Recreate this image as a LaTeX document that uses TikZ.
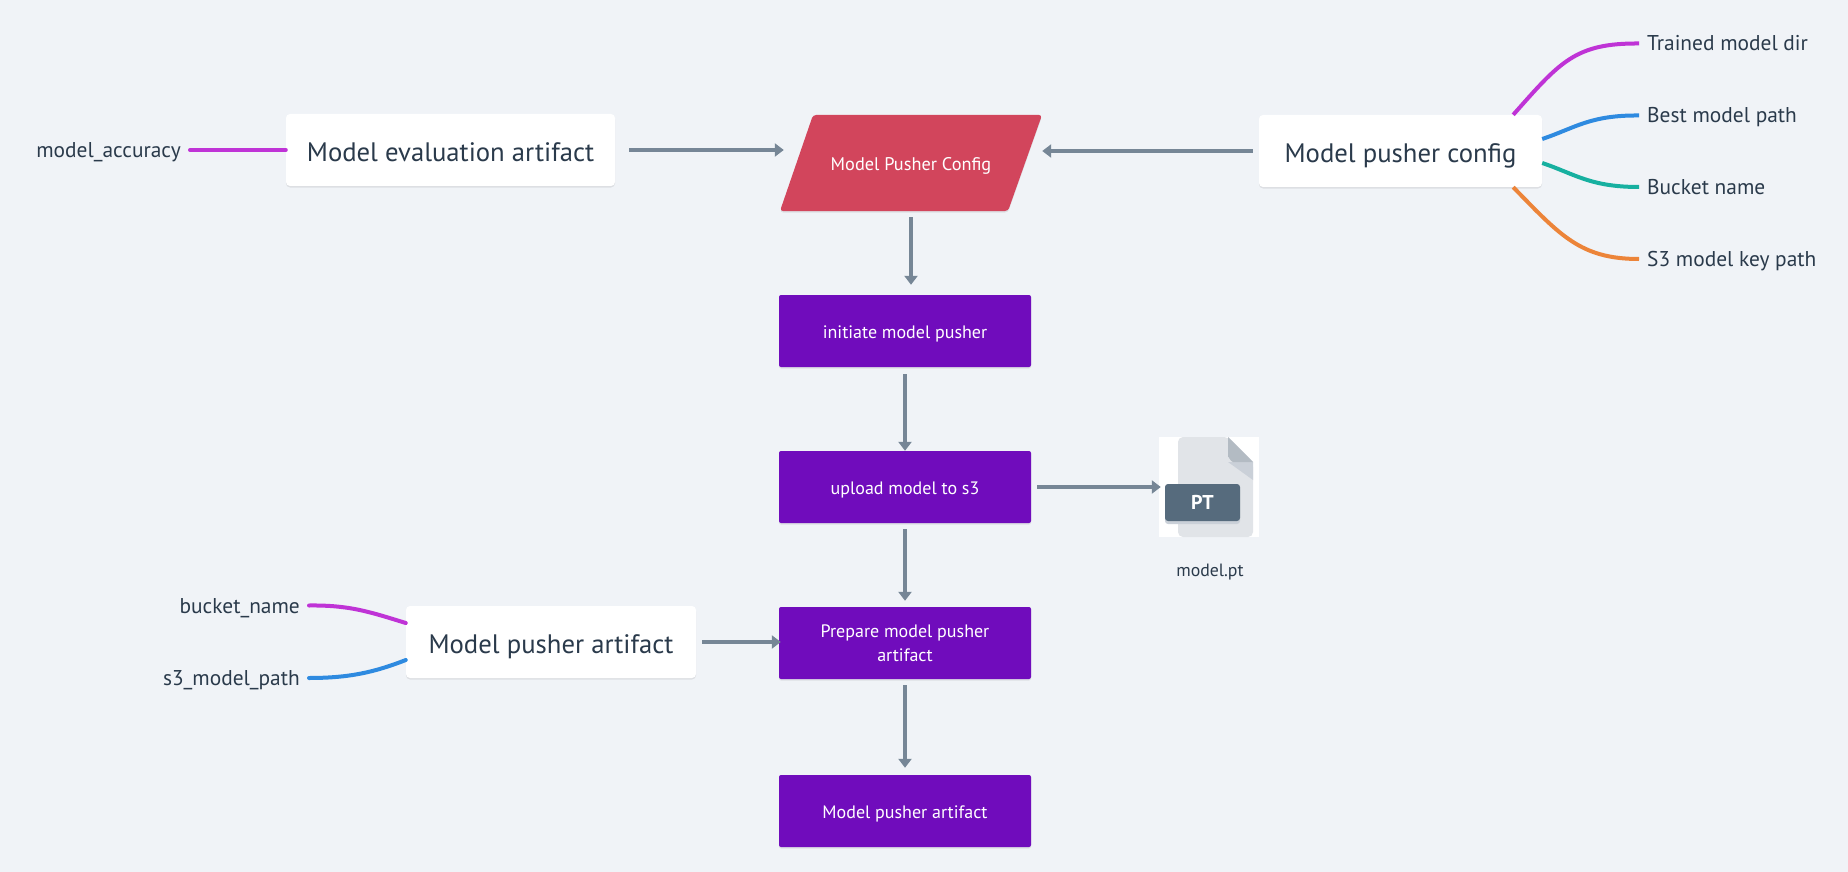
\documentclass[tikz,border=0pt]{standalone}
\usepackage{fontspec}
\setmainfont{PT Sans}
\usepackage{tikz}
\usetikzlibrary{arrows.meta,shadows}
\definecolor{pagebg}{HTML}{F0F3F7}
\definecolor{inkdark}{HTML}{2A3A4B}
\definecolor{arrowgray}{HTML}{768696}
\definecolor{flowpurple}{HTML}{700CBC}
\definecolor{configred}{HTML}{D2455C}
\definecolor{linkmagenta}{HTML}{BF33D6}
\definecolor{linkblue}{HTML}{2E8AE0}
\definecolor{linkteal}{HTML}{17B0A0}
\definecolor{linkorange}{HTML}{EC8439}
\definecolor{filepage}{HTML}{E1E4E8}
\definecolor{filefold}{HTML}{B3BBC3}
\definecolor{filefoldlow}{HTML}{CAD0D8}
\definecolor{filelabel}{HTML}{566B7D}

\begin{document}
\begin{tikzpicture}[
	x=1pt, y=-1pt,
	> = {Triangle[width=13pt,length=9pt]},
	softshadow/.style = {drop shadow={shadow xshift=0pt,shadow yshift=-1.5pt,opacity=0.08,fill=black}},
	artifact/.style = {fill=white,rounded corners=4pt,minimum height=72pt,softshadow,text=inkdark,text height=25.4pt,text depth=2.7pt,font=\fontsize{26.7}{30}\selectfont},
	flowbox/.style = {fill=flowpurple,rounded corners=2pt,minimum width=252pt,minimum height=72pt,softshadow,text=white,align=center,font=\fontsize{18}{23.5}\selectfont},
	flowtext/.style = {text height=17.1pt,text depth=1.8pt},
	leaf/.style = {text=inkdark,inner sep=0pt,text height=18.2pt,text depth=3.2pt,font=\fontsize{21.4}{24}\selectfont},
	flow/.style = {->,draw=arrowgray,line width=3.5pt},
	link/.style = {line width=4pt,line cap=round}
	]
	\useasboundingbox (0,0) rectangle (1848,872);
	\fill[pagebg] (0,0) rectangle (1848,872);

	\node[artifact,minimum width=329pt] (evalart) at (450.5,150) {Model evaluation artifact};
	\node[artifact,minimum width=283pt] (pushcfg) at (1400.5,151) {Model pusher config};
	\node[artifact,minimum width=290pt] (pushart) at (551,642) {Model pusher artifact};

	\fill[configred,rounded corners=3pt,softshadow] (813,115) -- (1042,115) -- (1008,211) -- (780,211) -- cycle;
	\node[minimum width=262pt,minimum height=96pt,text=white,flowtext,font=\fontsize{18.3}{22}\selectfont] (pushercfg) at (911,163) {Model Pusher Config};

	\node[flowbox,flowtext] (initiate) at (905,331) {initiate model pusher};
	\node[flowbox,flowtext] (upload) at (905,487) {upload model to s3};
	\node[flowbox,text depth=-2.5pt] (prepare) at (905,643) {Prepare model pusher\\artifact};
	\node[flowbox,flowtext] (result) at (905,811) {Model pusher artifact};

	\node[leaf,anchor=west] (traineddir) at (1647,43.5) {Trained model dir};
	\node[leaf,anchor=west] (bestpath) at (1647,115.5) {Best model path};
	\node[leaf,anchor=west] (bucket) at (1647,187) {Bucket name};
	\node[leaf,anchor=west] (keypath) at (1647,259) {S3 model key path};
	\node[leaf,anchor=east] (accuracy) at (181,150) {model\_accuracy};
	\node[leaf,anchor=east] (bucketname) at (300,605.5) {bucket\_name};
	\node[leaf,anchor=east] (modelpath) at (300,678) {s3\_model\_path};

	\node[fill=white,minimum width=100pt,minimum height=100pt,inner sep=0pt] (ptfile) at (1209,487) {};
	\fill[filepage,rounded corners=5pt] (1178,437) -- (1228,437) -- (1253,462) -- (1253,537) -- (1178,537) -- cycle;
	\fill[filefoldlow] (1228,462) -- (1253,462) -- (1253,480) -- cycle;
	\fill[filefold] (1228,437) -- (1253,462) -- (1233,462) to[out=180,in=90] (1228,457) -- cycle;
	\fill[filefoldlow,rounded corners=3pt] (1165,487) rectangle (1240,524);
	\node[fill=filelabel,rounded corners=3pt,minimum width=75pt,minimum height=37pt,inner sep=0pt,text=white,font=\fontsize{20}{24}\bfseries\selectfont] (ptlabel) at (1202.5,502.5) {PT};
	\node[inner sep=0pt,text=inkdark,font=\fontsize{17.8}{22}\selectfont,anchor=north] (ptname) at (1210,564) {model.pt};

	\draw[flow,shorten <=14pt,shorten >=-4pt] (evalart.east) -- (pushercfg.south west |- evalart.east);
	\draw[flow,shorten <=6pt] (pushcfg.west) -- (pushercfg.north east |- pushcfg.west);
	\draw[flow,shorten <=6pt,shorten >=10pt] (pushercfg.south) -- (pushercfg.south |- initiate.north);
	\draw[flow,shorten <=7pt] (initiate) -- (upload);
	\draw[flow,shorten <=6pt,shorten >=6pt] (upload) -- (prepare);
	\draw[flow,shorten <=6pt,shorten >=7pt] (prepare) -- (result);
	\draw[flow,shorten <=6pt,shorten >=-2pt] (upload.east) -- (ptfile.west);
	\draw[flow,shorten <=6pt,shorten >=-2pt] (pushart.east) -- (prepare.west |- pushart.east);

	\draw[link,linkmagenta,line cap=butt] ([xshift=-29pt]pushcfg.north east) .. controls (1560,62) and (1575,43) .. ([xshift=-8pt]traineddir.west);
	\draw[link,linkblue,line cap=butt] ([yshift=12pt]pushcfg.east) .. controls (1575,128) and (1590,115) .. ([xshift=-8pt]bestpath.west);
	\draw[link,linkteal,line cap=butt] ([yshift=-12pt]pushcfg.east) .. controls (1575,174) and (1590,187) .. ([xshift=-8pt]bucket.west);
	\draw[link,linkorange,line cap=butt] ([xshift=-29pt]pushcfg.south east) .. controls (1560,235) and (1580,259) .. ([xshift=-8pt]keypath.west);
	\draw[link,linkmagenta] ([xshift=9pt]accuracy.east) -- (evalart.west |- accuracy.east);
	\draw[link,linkmagenta] ([xshift=9pt]bucketname.east) .. controls (350,605) and (370,612) .. ([yshift=19pt]pushart.west);
	\draw[link,linkblue] ([xshift=9pt]modelpath.east) .. controls (350,678) and (375,672) .. ([yshift=-18pt]pushart.west);
\end{tikzpicture}
\end{document}
